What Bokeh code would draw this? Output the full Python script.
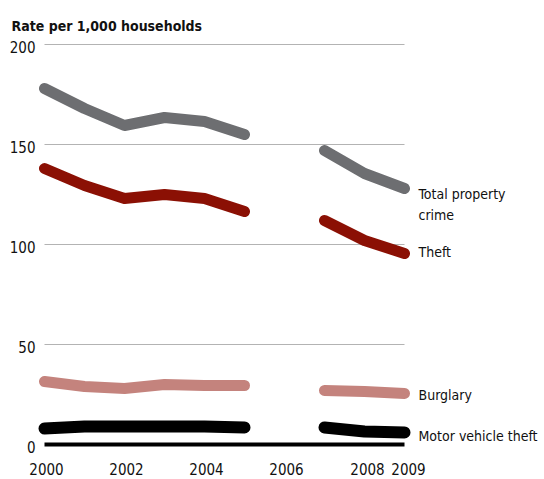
import numpy as np
from bokeh.plotting import figure
from bokeh.models import Range1d, ColumnDataSource
from bokeh.core.properties import value
from bokeh.embed import file_html
from bokeh.resources import INLINE

years = [2000, 2001, 2002, 2003, 2004, 2005, 2006, 2007, 2008, 2009]
total_property = [178, 168, 159.5, 163.5, 161.5, 155, np.nan, 147, 135.5, 128]
theft = [138, 129.5, 123, 125, 123, 116.5, np.nan, 112, 102, 95.5]
burglary = [31.5, 29, 28, 30, 29.5, 29.5, np.nan, 27, 26.5, 25.5]
motor_vehicle = [8, 9, 9, 9, 9, 8.5, np.nan, 8.5, 6.5, 6]
x_ticks = [2000, 2002, 2004, 2006, 2008, 2009]
x_tick_labels = ["2000", "2002", "2004", "2006", "2008", "2009"]
y_ticks = [0, 50, 100, 150, 200]
y_tick_labels = ["0", "50", "100", "150", "200"]
grid_levels = [50, 100, 150, 200]
title_text = "Rate per 1,000 households"
series_labels = ["Total property", "crime", "Theft", "Burglary", "Motor vehicle theft"]

FONT = "'DejaVu Sans Condensed', Roboto, sans-serif"
TXT = "#111111"

W, H = 544, 479
X0 = 1998.9
Y1 = 222.0
x_rng = Range1d(X0, X0 + W / 40.0)
y_rng = Range1d(Y1 - H / 2.0, Y1)

p = figure(width=W, height=H, output_backend="svg", toolbar_location=None,
           x_range=x_rng, y_range=y_rng, x_axis_location=None, y_axis_location=None,
           min_border=0, min_border_left=0, min_border_right=0,
           min_border_top=0, min_border_bottom=0)
p.outline_line_color = None
p.grid.visible = False

# gridlines
p.segment(x0=[years[0]] * len(grid_levels), x1=[years[-1]] * len(grid_levels),
          y0=grid_levels, y1=grid_levels, line_color="#b3b3b3", line_width=1)
# baseline
p.segment(x0=[years[0]], x1=[years[-1]], y0=[0], y1=[0], line_color="black", line_width=4)

# title
p.text(x=[X0], y=[Y1], text=[title_text], x_offset=11, y_offset=25,
       text_font=value(FONT), text_font_style="bold", text_font_size="14px",
       text_color=TXT, text_baseline="alphabetic", text_align="left")

# y tick labels
ysrc = ColumnDataSource(dict(x=[years[0]] * len(y_ticks), y=y_ticks, t=y_tick_labels))
p.text(x="x", y="y", text="t", x_offset=-9, y_offset=2, source=ysrc,
       text_font=value(FONT), text_font_size="15px", text_color=TXT,
       text_baseline="middle", text_align="right")

# x tick labels
xsrc = ColumnDataSource(dict(x=x_ticks, y=[0] * len(x_ticks), t=x_tick_labels,
                             dx=[2, 2, 2, 2, 3, 4]))
p.text(x="x", y="y", text="t", x_offset="dx", y_offset=24, source=xsrc,
       text_font=value(FONT), text_font_size="15px", text_color=TXT,
       text_baseline="middle", text_align="center")

series = [
    (total_property, "#6d6e71", 11),
    (theft, "#8b1004", 11),
    (burglary, "#c4837d", 11),
    (motor_vehicle, "#000000", 12),
]
for vals, col, lw in series:
    p.line(years, vals, line_color=col, line_width=lw, line_cap="round", line_join="round")

label_vals = [total_property[-1], total_property[-1], theft[-1], burglary[-1], motor_vehicle[-1]]
label_dy = [5, 26, -1.5, 1.5, 3.5]
src = ColumnDataSource(dict(x=[years[-1]] * len(series_labels), y=label_vals,
                            t=series_labels, dy=label_dy))
p.text(x="x", y="y", text="t", y_offset="dy", x_offset=14, source=src,
       text_font=value(FONT), text_font_size="14px", text_color=TXT,
       text_baseline="middle", text_align="left")

open("out.html", "w").write(file_html(p, INLINE))
